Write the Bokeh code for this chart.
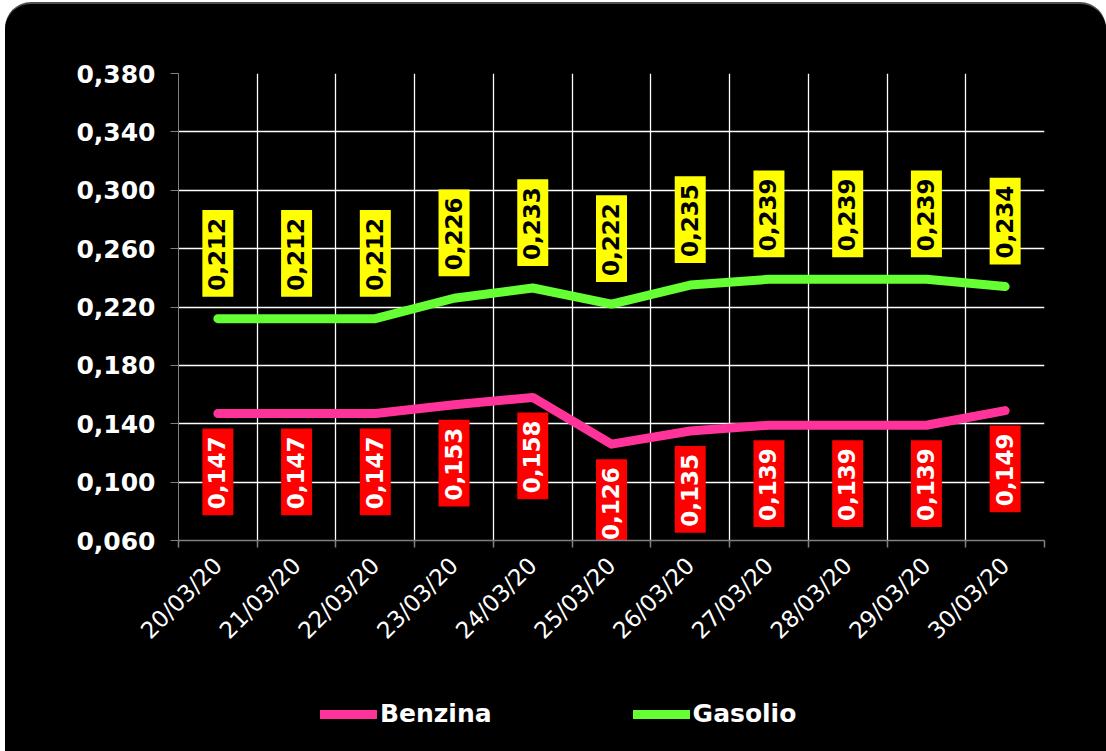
import math
from bokeh.plotting import figure
from bokeh.layouts import column
from bokeh.models import Range1d, FixedTicker, Legend, LegendItem
from bokeh.core.properties import value
from bokeh.embed import file_html
from bokeh.resources import INLINE

dates = ["20/03/20", "21/03/20", "22/03/20", "23/03/20", "24/03/20", "25/03/20",
         "26/03/20", "27/03/20", "28/03/20", "29/03/20", "30/03/20"]
benzina = [0.147, 0.147, 0.147, 0.153, 0.158, 0.126, 0.135, 0.139, 0.139, 0.139, 0.149]
gasolio = [0.212, 0.212, 0.212, 0.226, 0.233, 0.222, 0.235, 0.239, 0.239, 0.239, 0.234]
yticks = [0.06, 0.10, 0.14, 0.18, 0.22, 0.26, 0.30, 0.34, 0.38]
ytick_labels = ["0,060", "0,100", "0,140", "0,180", "0,220", "0,260", "0,300", "0,340", "0,380"]
series_names = ["Benzina", "Gasolio"]
series_colors = ["#FF3399", "#66FF33"]

def fmt(v):
    return ("%.3f" % v).replace(".", ",")

xs = [i + 0.5 for i in range(len(dates))]
benz_lbl = [fmt(v) for v in benzina]
gas_lbl = [fmt(v) for v in gasolio]

FONT = value("DejaVu Sans")

p = figure(frame_width=866, frame_height=467,
           min_border_left=173, min_border_right=62, min_border_top=69, min_border_bottom=131,
           x_range=Range1d(0, len(dates)), y_range=Range1d(yticks[0], yticks[-1]),
           output_backend="svg", toolbar_location=None,
           background_fill_color="black", border_fill_color="black")
p.outline_line_color = None

# grids
p.xgrid.ticker = FixedTicker(ticks=list(range(1, len(dates) + 1)))
p.xgrid.grid_line_color = "white"
p.xgrid.grid_line_width = 1.3
p.ygrid.ticker = FixedTicker(ticks=yticks[1:])
p.ygrid.grid_line_color = "white"
p.ygrid.grid_line_width = 1.3

# y axis
p.yaxis.ticker = FixedTicker(ticks=yticks)
p.yaxis.major_label_overrides = {t: l for t, l in zip(yticks, ytick_labels)}
p.yaxis.axis_line_color = "#808080"
p.yaxis.major_tick_line_color = "#808080"
p.yaxis.major_tick_out = 8
p.yaxis.major_tick_in = 0
p.yaxis.minor_tick_line_color = None
p.yaxis.major_label_text_color = "white"
p.yaxis.major_label_text_font = "DejaVu Sans"
p.yaxis.major_label_text_font_style = "bold"
p.yaxis.major_label_text_font_size = "25px"
p.yaxis.major_label_standoff = 15

# x axis
p.xaxis.ticker = FixedTicker(ticks=xs, minor_ticks=list(range(0, len(dates) + 1)))
p.xaxis.major_label_overrides = {x: d for x, d in zip(xs, dates)}
p.xaxis.axis_line_color = "#808080"
p.xaxis.axis_line_width = 1.5
p.xaxis.major_tick_line_color = None
p.xaxis.major_tick_out = 0
p.xaxis.major_tick_in = 0
p.xaxis.minor_tick_line_color = "#808080"
p.xaxis.minor_tick_line_width = 1.5
p.xaxis.minor_tick_out = 7
p.xaxis.minor_tick_in = 0
p.xaxis.major_label_orientation = math.pi / 4
p.xaxis.major_label_text_color = "white"
p.xaxis.major_label_text_font = "DejaVu Sans"
p.xaxis.major_label_text_font_size = "23px"
p.xaxis.major_label_standoff = 14

# lines
p.line(xs, benzina, line_width=9, line_color=series_colors[0], line_cap="round", line_join="round")
p.line(xs, gasolio, line_width=9, line_color=series_colors[1], line_cap="round", line_join="round")

# data labels
p.text(x=xs, y=benzina, text=benz_lbl, angle=math.pi / 2, text_align="right",
       text_baseline="middle", y_offset=15, text_color="white", text_font=FONT,
       text_font_style="bold", text_font_size="23px", background_fill_color="#FF0000",
       padding=(6, 8, 6, 8))
p.text(x=xs, y=gasolio, text=gas_lbl, angle=math.pi / 2, text_align="left",
       text_baseline="middle", y_offset=-22, text_color="black", text_font=FONT,
       text_font_style="bold", text_font_size="23px", background_fill_color="#FFFF00",
       padding=(6, 8, 6, 8))

# legend strip below the chart (its series are kept out of view; only the key shows)
lf = figure(width=1101, height=80, min_border=0, x_range=Range1d(-100, -99), y_range=Range1d(0, 1),
            output_backend="svg", toolbar_location=None,
            background_fill_color="black", border_fill_color="black")
lf.outline_line_color = None
lf.axis.visible = False
lf.grid.visible = False
items = []
for name, col, vals in zip(series_names, series_colors, [benzina, gasolio]):
    r = lf.line(xs, vals, line_width=9, line_color=col, line_cap="round")
    items.append(LegendItem(label=name, renderers=[r]))
lg = Legend(items=items, location=(142, 23), orientation="horizontal",
            glyph_width=57, glyph_height=20, label_standoff=3,
            padding=0, margin=0, spacing=141,
            background_fill_alpha=0, border_line_alpha=0,
            label_text_color="white", label_text_font="DejaVu Sans",
            label_text_font_style="bold", label_text_font_size="25px")
lf.add_layout(lg, "center")

layout = column(p, lf, spacing=0)
layout.styles = {"border-radius": "26px 26px 0px 0px", "overflow": "hidden",
                 "margin": "4px 0px 0px 5px", "background-color": "black",
                 "box-shadow": "0px -2px 0px #505050"}

open("out.html", "w").write(file_html(layout, INLINE))
